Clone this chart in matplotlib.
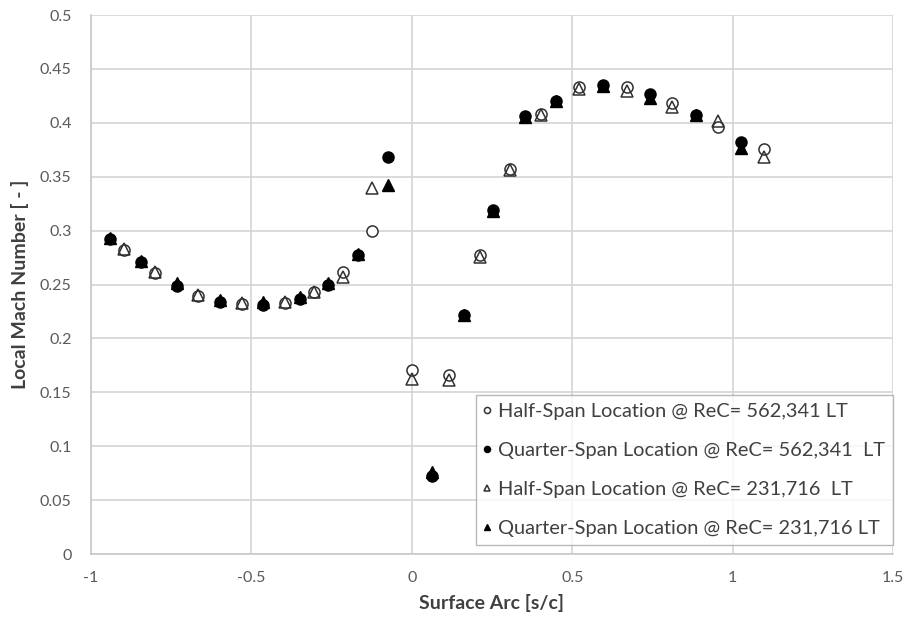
import matplotlib
matplotlib.use("Agg")
import matplotlib.pyplot as plt

plt.rcParams['font.family'] = ['Lato', 'DejaVu Sans']

# Surface arc positions of the pressure taps (s/c)
x_half = [-0.898, -0.800, -0.666, -0.529, -0.394, -0.305, -0.215, -0.124, 0.000,
          0.116, 0.213, 0.305, 0.402, 0.521, 0.670, 0.812, 0.953, 1.097]
x_quarter = [-0.940, -0.844, -0.733, -0.597, -0.463, -0.349, -0.261, -0.169, -0.074,
             0.064, 0.162, 0.254, 0.354, 0.451, 0.596, 0.742, 0.886, 1.027]

# Local Mach number per series
mach_half_562 = [0.282, 0.261, 0.239, 0.232, 0.233, 0.243, 0.262, 0.300, 0.171,
                 0.166, 0.277, 0.357, 0.408, 0.433, 0.433, 0.418, 0.396, 0.376]
mach_quarter_562 = [0.292, 0.271, 0.249, 0.234, 0.231, 0.237, 0.250, 0.277, 0.368,
                    0.072, 0.222, 0.319, 0.406, 0.420, 0.435, 0.427, 0.407, 0.382]
mach_half_231 = [0.283, 0.262, 0.240, 0.233, 0.234, 0.243, 0.257, 0.340, 0.162,
                 0.161, 0.276, 0.356, 0.407, 0.431, 0.430, 0.415, 0.402, 0.368]
mach_quarter_231 = [0.293, 0.272, 0.251, 0.236, 0.234, 0.238, 0.251, 0.278, 0.342,
                    0.076, 0.222, 0.318, 0.405, 0.420, 0.434, 0.423, 0.407, 0.377]

labels = ["Half-Span Location @ ReC= 562,341 LT",
          "Quarter-Span Location @ ReC= 562,341  LT",
          "Half-Span Location @ ReC= 231,716  LT",
          "Quarter-Span Location @ ReC= 231,716 LT"]

x_ticks = [-1, -0.5, 0, 0.5, 1, 1.5]
x_tick_labels = ["-1", "-0.5", "0", "0.5", "1", "1.5"]
y_ticks = [0, 0.05, 0.1, 0.15, 0.2, 0.25, 0.3, 0.35, 0.4, 0.45, 0.5]
y_tick_labels = ["0", "0.05", "0.1", "0.15", "0.2", "0.25", "0.3", "0.35", "0.4", "0.45", "0.5"]

fig = plt.figure(figsize=(9.10, 6.27), dpi=100)
ax = fig.add_axes([0.1, 0.1164, 0.8813, 0.8596])

ms = 8
ax.plot(x_half, mach_half_562, linestyle='none', marker='o', ms=ms,
        mfc='white', mec='#303030', mew=1.1, label=labels[0], zorder=3)
ax.plot(x_quarter, mach_quarter_562, linestyle='none', marker='o', ms=ms,
        mfc='black', mec='black', mew=1.0, label=labels[1], zorder=4)
ax.plot(x_half, mach_half_231, linestyle='none', marker='^', ms=ms,
        mfc='none', mec='#303030', mew=1.1, label=labels[2], zorder=5)
ax.plot(x_quarter, mach_quarter_231, linestyle='none', marker='^', ms=ms,
        mfc='black', mec='black', mew=1.0, label=labels[3], zorder=6)

ax.set_xlim(-1, 1.5)
ax.set_ylim(0, 0.5)
ax.set_xticks(x_ticks)
ax.set_xticklabels(x_tick_labels)
ax.set_yticks(y_ticks)
ax.set_yticklabels(y_tick_labels)

ax.grid(True, color='#d4d4d4', linewidth=1.2, zorder=0)
ax.set_axisbelow(True)
for side in ['top', 'right']:
    ax.spines[side].set_visible(False)
for side in ['left', 'bottom']:
    ax.spines[side].set_color('#c8c8c8')
    ax.spines[side].set_linewidth(1.2)

ax.tick_params(axis='both', length=0, labelsize=11.5, labelcolor='#595959')
ax.tick_params(axis='x', pad=12)
ax.tick_params(axis='y', pad=14)

ax.set_xlabel("Surface Arc [s/c]", fontsize=14, fontweight='bold', color='#404040', labelpad=7)
ax.set_ylabel("Local Mach Number [ - ]", fontsize=14, fontweight='bold', color='#404040', labelpad=8)

leg = ax.legend(loc='lower right', bbox_to_anchor=(1.0, 0.016), fontsize=14.4,
                markerscale=0.55, handletextpad=0.4, handlelength=0.3,
                labelspacing=1.1, borderpad=0.4, frameon=True, fancybox=False,
                borderaxespad=0.0)
leg.get_frame().set_edgecolor('#a6a6a6')
leg.get_frame().set_linewidth(1.0)
for t in leg.get_texts():
    t.set_color('#404040')

fig.savefig("out.png", dpi=100, facecolor='white')
